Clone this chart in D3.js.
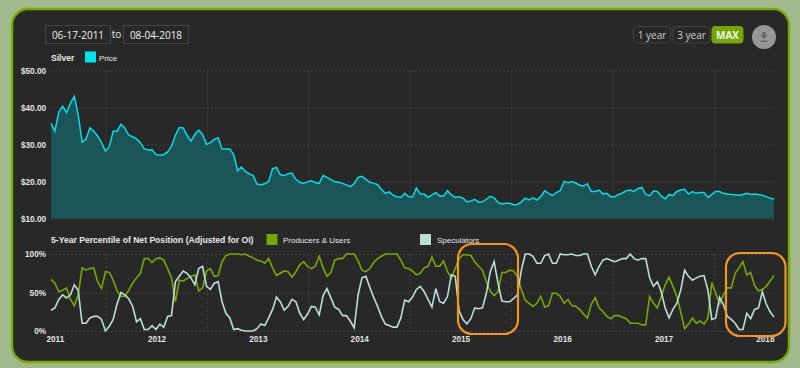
<!DOCTYPE html>
<html>
<head>
<meta charset="utf-8">
<script src="https://cdn.jsdelivr.net/npm/d3@7"></script>
<style>
	html, body { margin: 0; padding: 0; background: #a3b88d; overflow: hidden; }
	svg { display: block; font-family: "Liberation Sans", sans-serif; }
	.tick text { fill: #e4e4e4; font-size: 8.2px; font-weight: bold; font-family: "Liberation Sans", sans-serif; }
	.tick line { stroke: #434343; stroke-dasharray: 2,2; }
</style>
</head>
<body>
<div id="chart"></div>
<script>
// values, one every 14 days from the start date
const startDate = "2011-06-17";
const stepDays = 14;

const price = [
	35.7,33.6,38.8,40.3,38.6,41.2,43,38,30.7,31.4,
	34.5,33.6,32.3,30.5,28.2,29.4,33.6,33.6,35.5,34.4,
	32.5,32.1,31.5,30.5,28.8,28.5,28.6,27.3,27.1,27.3,
	28,29.5,32.5,34.6,34.5,32.5,30.9,32.7,33.9,32.7,
	30,30.5,31.4,31.8,28.8,28.8,28.8,27.3,22.9,23.9,
	22.7,22.1,21.6,19.3,19.1,19.4,20,23.5,23.8,21.8,
	21.6,22.1,22.3,20.6,19.8,19.5,19.9,20.2,19.7,19.5,
	21.6,21.1,20.5,19.9,19.8,19.5,19.1,18.6,19.4,21.1,
	21.4,20.6,19.8,19.5,19.2,17.9,16.8,17.2,16.3,15.9,
	15.7,16.8,15.9,15.8,18.2,16.6,16.6,15.7,16.4,17,
	16.1,16.1,17.5,16.4,15.7,15.9,15.5,14.5,14.7,15.2,
	14.4,14.5,15.2,16,15.6,14.3,13.9,14.1,14.1,13.7,
	13.8,14.5,15.5,15,15.6,15,15.9,17.5,16.8,16.2,
	17,17.5,20,19.7,20,19.6,19,18.8,19.4,17.3,
	17.3,17.7,16.6,16.8,15.9,15.9,16.5,16.9,17.5,17.7,
	17.3,18.1,18.4,16.6,16.1,17.4,17.3,16.1,15.3,16.5,
	16.2,17.3,17.7,17.9,16.6,17.3,16.8,17,17,15.7,
	16.5,17.3,17.3,16.8,16.6,16.5,16.4,16.3,16.5,16.8,
	16.5,16.6,16.5,16.3,15.9,15.5,15.3
];

const producers = [
	67,62,51,53,56,41,33,47,82,79,
	81,82,64,55,77,76,66,52,45,45,
	53,62,69,75,94,94,89,94,95,92,
	81,69,38,66,65,68,71,73,52,56,
	78,81,71,72,90,98,100,100,100,99,
	100,97,95,92,91,88,94,82,72,75,
	78,77,70,77,86,90,84,81,84,97,
	82,71,76,92,94,94,100,100,100,91,
	79,77,81,89,94,97,100,100,100,100,
	92,82,81,78,73,75,82,84,96,84,
	84,91,77,69,81,94,99,99,98,90,
	84,79,64,52,46,51,76,76,79,78,
	71,54,40,36,32,36,45,31,33,49,
	49,45,36,41,33,32,28,22,17,35,
	43,30,25,19,16,20,20,18,16,10,
	10,10,8,8,45,36,30,45,60,70,
	58,45,25,3,9,17,10,13,9,17,
	63,49,35,47,56,56,75,82,90,73,
	76,59,52,54,58,65,72
];

const speculators = [
	27,30,41,47,43,47,60,53,10,10,
	17,19,19,15,0,6,15,35,50,47,
	42,32,12,16,2,2,7,2,9,5,
	19,20,64,71,78,75,69,60,81,84,
	58,54,62,64,38,23,17,2,3,1,
	0,0,0,3,9,7,17,28,44,38,
	27,32,41,38,23,15,22,32,31,21,
	46,55,43,31,28,20,20,13,4,47,
	69,71,57,44,32,19,9,7,5,5,
	17,40,38,44,54,58,51,41,31,55,
	38,36,45,73,71,26,15,9,16,30,
	29,30,49,77,90,62,39,38,38,42,
	47,79,100,100,97,88,88,98,100,88,
	88,100,99,99,100,98,98,100,100,84,
	73,84,92,94,92,90,92,94,94,100,
	94,92,94,94,69,58,64,51,30,17,
	28,36,53,79,71,66,69,71,72,53,
	15,17,44,34,19,15,10,2,2,23,
	16,28,30,51,35,25,18
];

const priceTicks = [10, 20, 30, 40, 50];
const pctTicks = [0, 50, 100];
const years = [2011, 2012, 2013, 2014, 2015, 2016, 2017, 2018];
const gridYears = [2012, 2013, 2014, 2015, 2016, 2017, 2018];

const width = 800;
const height = 368;
const left = 51;
const right = 774;

const dates = price.map((d, i) => d3.utcDay.offset(new Date(startDate), i * stepDays));

const svg = d3.select("#chart").append("svg")
	.attr("width", width)
	.attr("height", height);

// panel
svg.append("rect")
	.attr("x", 12).attr("y", 9)
	.attr("width", 777).attr("height", 353)
	.attr("rx", 16)
	.attr("fill", "#282828")
	.attr("stroke", "#78aa00")
	.attr("stroke-width", 2.4);

const x = d3.scaleUtc().domain(d3.extent(dates)).range([left, right]);
const yPrice = d3.scaleLinear().domain([10, 50]).range([218.5, 70.5]);
const yPct = d3.scaleLinear().domain([0, 100]).range([331, 254]);

const formatPrice = d => "$" + d3.format(".2f")(d);

// y axes, tick lines used as the grid
svg.append("g")
	.attr("transform", `translate(${left},0)`)
	.call(d3.axisLeft(yPrice).tickValues(priceTicks).tickFormat(formatPrice)
		.tickSize(-(right - left)).tickPadding(5))
	.call(g => g.select(".domain").remove());

svg.append("g")
	.attr("transform", `translate(${left},0)`)
	.call(d3.axisLeft(yPct).tickValues(pctTicks).tickFormat(d => d + "%")
		.tickSize(-(right - left)).tickPadding(5))
	.call(g => g.select(".domain").remove());

// vertical grid sits on 1 Jan, year labels on 1 Jul
const yearStart = y => new Date(Date.UTC(y, 0, 1));
const yearMid = y => new Date(Date.UTC(y, 6, 1));

[yPrice, yPct].forEach(s => {
	svg.append("g")
		.selectAll("line")
		.data(gridYears)
		.join("line")
		.attr("x1", d => x(yearStart(d)))
		.attr("x2", d => x(yearStart(d)))
		.attr("y1", s.range()[1])
		.attr("y2", s.range()[0])
		.attr("stroke", "#434343")
		.attr("stroke-dasharray", "2,2");
});

svg.append("g")
	.attr("transform", "translate(0,331)")
	.call(d3.axisBottom(x).tickValues(years.map(yearMid)).tickFormat(d3.utcFormat("%Y"))
		.tickSize(0).tickPadding(5))
	.call(g => g.select(".domain").remove());

// price
const area = d3.area()
	.x((d, i) => x(dates[i]))
	.y0(yPrice(10))
	.y1(d => yPrice(d));

const line = d3.line()
	.x((d, i) => x(dates[i]))
	.y(d => yPrice(d));

svg.append("path").datum(price)
	.attr("d", area)
	.attr("fill", "#1b5558");

svg.append("path").datum(price)
	.attr("d", line)
	.attr("fill", "none")
	.attr("stroke", "#00dfe8")
	.attr("stroke-width", 1.5);

// positioning lines
const pctLine = d3.line()
	.x((d, i) => x(dates[i]))
	.y(d => yPct(d));

svg.append("path").datum(producers)
	.attr("d", pctLine)
	.attr("fill", "none")
	.attr("stroke", "#76a800")
	.attr("stroke-width", 1.6);

svg.append("path").datum(speculators)
	.attr("d", pctLine)
	.attr("fill", "none")
	.attr("stroke", "#b8e0d8")
	.attr("stroke-width", 1.6);

// legends
const label = (px, py, txt, weight, size) => svg.append("text")
	.attr("x", px).attr("y", py)
	.attr("fill", "#e8e8e8")
	.attr("font-size", size || 8)
	.attr("font-weight", weight || "normal")
	.text(txt);

const swatch = (px, py, color) => svg.append("rect")
	.attr("x", px).attr("y", py)
	.attr("width", 11).attr("height", 11)
	.attr("fill", color);

label(51, 60.5, "Silver", "bold", 8.6);
swatch(85, 51.5, "#00e4ee");
label(99, 60.5, "Price");

label(51, 243, "5-Year Percentile of Net Position (Adjusted for OI)", "bold", 8.6);
swatch(266.5, 234, "#76a800");
label(283, 243, "Producers & Users");
swatch(420, 234, "#b8e0d8");
label(437, 243, "Speculators");

// date boxes
[[45, "06-17-2011"], [123, "08-04-2018"]].forEach(([px, txt]) => {
	svg.append("rect")
		.attr("x", px + 0.5).attr("y", 25.5)
		.attr("width", 65).attr("height", 18)
		.attr("fill", "none")
		.attr("stroke", "#444");
	svg.append("text")
		.attr("x", px + 33).attr("y", 38.5)
		.attr("text-anchor", "middle")
		.attr("fill", "#f0f0f0")
		.attr("font-family", "'Open Sans', sans-serif")
		.attr("font-size", 10)
		.text(txt);
});
svg.append("text")
	.attr("x", 116.5).attr("y", 38)
	.attr("text-anchor", "middle")
	.attr("fill", "#f0f0f0")
	.attr("font-family", "'Open Sans', sans-serif")
	.attr("font-size", 10)
	.text("to");

// range buttons
[[633.5, 37, "1 year", false], [673, 37, "3 year", false], [712, 31, "MAX", true]].forEach(([px, w, txt, on]) => {
	svg.append("rect")
		.attr("x", px).attr("y", 26.5)
		.attr("width", w).attr("height", 16.5)
		.attr("rx", 3)
		.attr("fill", on ? "#74a800" : "none")
		.attr("stroke", on ? "#74a800" : "#444");
	svg.append("text")
		.attr("x", px + w / 2).attr("y", 38.5)
		.attr("text-anchor", "middle")
		.attr("fill", on ? "#f2f2f2" : "#d0d0d0")
		.attr("font-family", "'Open Sans', sans-serif")
		.attr("font-size", 10)
		.attr("font-weight", on ? "bold" : "normal")
		.text(txt);
});

// download button
const dl = svg.append("g").attr("transform", "translate(764,37)");
dl.append("circle").attr("r", 12).attr("fill", "#979797");
dl.append("path")
	.attr("d", "M-1.5,-5 H1.5 V-1.5 H3.5 L0,2 L-3.5,-1.5 H-1.5 Z M-3.5,3.5 H3.5 V5 H-3.5 Z")
	.attr("fill", "#666");

// orange highlights
[[458, 244, 60, 90], [726, 253, 59.5, 83]].forEach(([px, py, w, h]) => {
	svg.append("rect")
		.attr("x", px).attr("y", py)
		.attr("width", w).attr("height", h)
		.attr("rx", 14)
		.attr("fill", "none")
		.attr("stroke", "#f5951d")
		.attr("stroke-width", 2.2);
});
</script>
</body>
</html>
